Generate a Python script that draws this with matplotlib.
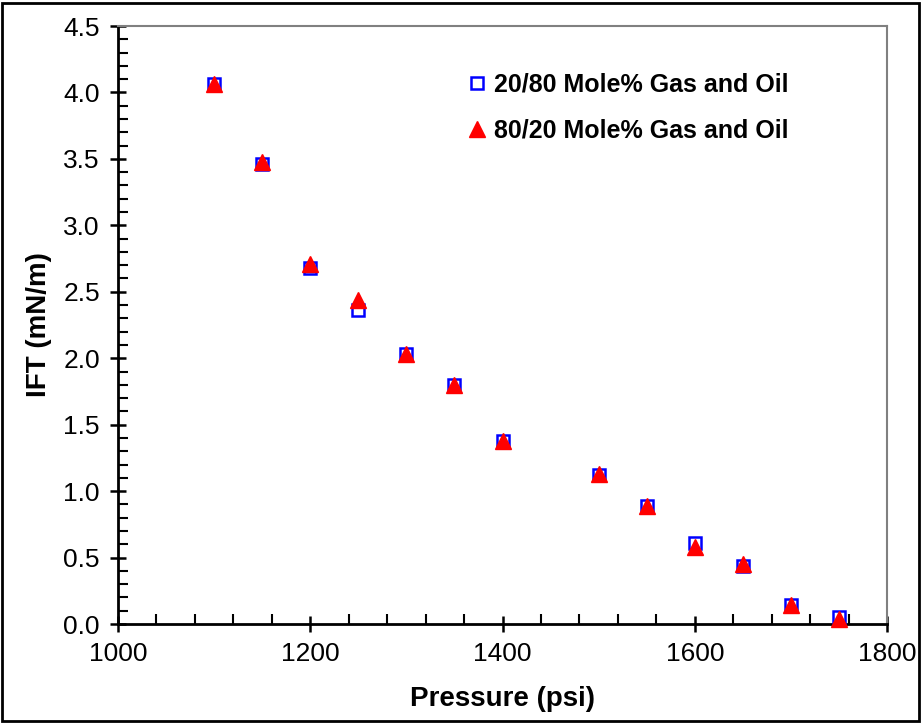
import matplotlib
matplotlib.use("Agg")
import matplotlib.pyplot as plt
from matplotlib.ticker import MultipleLocator
from matplotlib.patches import Rectangle

pressure_a = [1100, 1150, 1200, 1250, 1300, 1350, 1400, 1500, 1550, 1600, 1650, 1700, 1750]
ift_a = [4.06, 3.46, 2.68, 2.36, 2.03, 1.80, 1.38, 1.12, 0.89, 0.61, 0.44, 0.14, 0.05]
pressure_b = [1100, 1150, 1200, 1250, 1300, 1350, 1400, 1500, 1550, 1600, 1650, 1700, 1750]
ift_b = [4.06, 3.48, 2.71, 2.44, 2.03, 1.80, 1.38, 1.13, 0.89, 0.58, 0.45, 0.14, 0.04]
label_a = "20/80 Mole% Gas and Oil"
label_b = "80/20 Mole% Gas and Oil"

plt.rcParams['font.family'] = ['Liberation Sans', 'DejaVu Sans']

fig = plt.figure(figsize=(9.22, 7.23), dpi=100)
ax = fig.add_axes([118/922, 1 - 624/723, (887 - 118)/922, (624 - 26)/723])

ax.plot(pressure_a, ift_a, linestyle='none', marker='s', markersize=8.5,
        markerfacecolor='none', markeredgecolor='#0000ff', markeredgewidth=1.8,
        label=label_a, clip_on=False, zorder=3)
ax.plot(pressure_b, ift_b, linestyle='none', marker='^', markersize=11,
        color='#ff0000', label=label_b, clip_on=False, zorder=4)

ax.set_xlim(1000, 1800)
ax.set_ylim(0, 4.5)
ax.xaxis.set_major_locator(MultipleLocator(200))
ax.xaxis.set_minor_locator(MultipleLocator(40))
ax.yaxis.set_major_locator(MultipleLocator(0.5))
ax.yaxis.set_minor_locator(MultipleLocator(0.1))
ax.yaxis.set_major_formatter(matplotlib.ticker.FormatStrFormatter('%.1f'))

ax.tick_params(which='major', direction='inout', length=12, width=1.8, labelsize=19, pad=7)
ax.tick_params(which='minor', direction='in', length=7, width=1.5)
ax.tick_params(top=False, right=False, which='both')

for s in ['left', 'bottom']:
    ax.spines[s].set_color('black')
    ax.spines[s].set_linewidth(2)
for s in ['top', 'right']:
    ax.spines[s].set_color('#808080')
    ax.spines[s].set_linewidth(1.5)

ax.set_xlabel("Pressure (psi)", fontsize=20, fontweight='bold', labelpad=14)
ax.set_ylabel("IFT (mN/m)", fontsize=20, fontweight='bold', labelpad=8)

leg = ax.legend(loc='upper left', bbox_to_anchor=(0.424, 0.96), frameon=False,
                prop={'size': 18, 'weight': 'bold'}, handlelength=0.8,
                handletextpad=0.3, labelspacing=0.9)

fig.patches.append(Rectangle((2/922, 2/723), 917/922, 718/723, transform=fig.transFigure,
                             fill=False, edgecolor='black', linewidth=2))

fig.savefig("out.png", dpi=100)
